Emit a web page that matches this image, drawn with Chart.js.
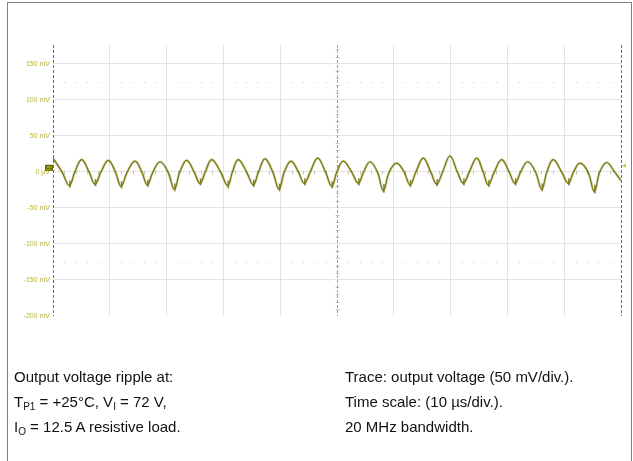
<!DOCTYPE html>
<html>
<head>
<meta charset="utf-8">
<script src="https://cdn.jsdelivr.net/npm/chart.js@4/dist/chart.umd.min.js"></script>
<style>
  html, body { margin: 0; padding: 0; background: #fff; }
  #wrap { position: relative; width: 633px; height: 461px; overflow: hidden; }
  #frame { position: absolute; left: 7px; top: 2px; width: 623px; height: 480px; border: 1px solid #7f7f7f; }
  #scope { position: absolute; left: 0; top: 0; }
  .note { position: absolute; font-family: "Liberation Sans", Arial, sans-serif; font-size: 15px; color: #111; line-height: 25px; white-space: nowrap; }
  .note sub { font-size: 10px; vertical-align: -3px; line-height: 0; }
</style>
</head>
<body>
<div id="wrap">
  <div id="frame"></div>
  <canvas id="scope" width="633" height="461"></canvas>
  <div class="note" style="left:14px; top:364px;">
    Output voltage ripple at:<br>
    T<sub>P1</sub> = +25°C, V<sub>I</sub> = 72 V,<br>
    I<sub>O</sub> = 12.5 A resistive load.
  </div>
  <div class="note" style="left:345px; top:364px;">
    Trace: output voltage (50 mV/div.).<br>
    Time scale: (10 µs/div.).<br>
    20 MHz bandwidth.
  </div>
</div>
<script>
// Output ripple trace, 10 µs/div horizontally, 50 mV/div vertically.
// Each cycle: falling zero crossing, minimum, rising zero crossing, maximum.
const timeUs = [
  0.00,
  1.58, 2.87, 3.85, 5.05,
  6.34, 7.39, 8.45, 9.74,
  10.97, 11.97, 13.08, 14.44,
  15.63, 16.60, 17.61, 18.84,
  20.23, 21.36, 22.34, 23.54,
  24.83, 25.88, 26.81, 27.94,
  29.49, 30.76, 31.60, 32.62,
  34.07, 35.26, 36.19, 37.32,
  38.68, 39.79, 40.74, 41.90,
  43.19, 44.24, 45.30, 46.60,
  47.96, 49.07, 49.99, 51.11,
  52.56, 53.75, 54.68, 55.81,
  57.10, 58.15, 59.21, 60.51,
  61.80, 62.85, 63.90, 65.19,
  66.49, 67.55, 68.60, 69.89,
  71.18, 72.24, 73.30, 74.60,
  75.72, 76.64, 77.70, 79.00,
  80.29, 81.34, 82.34, 83.57,
  84.93, 86.04, 86.96, 88.08,
  89.53, 90.72, 91.65, 92.78,
  94.17, 95.30, 96.28, 97.48,
  98.86, 100.00
];
const rippleMv = [
  19,
  0, -19, 0, 17,
  0, -17, 0, 16,
  0, -20, 0, 15,
  0, -18, 0, 14,
  0, -24, 0, 16,
  0, -16, 0, 17,
  0, -19, 0, 17,
  0, -18, 0, 18,
  0, -24, 0, 15,
  0, -16, 0, 19,
  0, -20, 0, 15,
  0, -16, 0, 14,
  0, -26, 0, 12,
  0, -18, 0, 19,
  0, -17, 0, 22,
  0, -16, 0, 19,
  0, -18, 0, 17,
  0, -16, 0, 14,
  0, -24, 0, 17,
  0, -16, 0, 12,
  0, -27, 0, 13,
  0, -12
];
// switching noise bursts riding on the ripple minima
const noiseTimeUs = [2.97, 7.49, 12.07, 16.70, 21.46, 25.98, 30.86, 35.36, 39.89, 44.34, 49.17,
                     53.85, 58.25, 62.95, 67.65, 72.34, 76.74, 81.44, 86.14, 90.82, 95.40];
const noiseLowMv  = [-22, -20, -23, -21, -27, -19, -23, -21, -27, -19, -23,
                     -19, -29, -21, -20, -19, -21, -19, -27, -19, -30];
const noiseHighMv = [-12, -10, -13, -11, -16, -9, -12, -11, -16, -9, -13,
                     -9, -17, -11, -10, -9, -11, -9, -16, -9, -18];

const xDivisions = [0, 10, 20, 30, 40, 50, 60, 70, 80, 90, 100];
const yTickValues = [150, 100, 50, 0, -50, -100, -150, -200];
const yTickLabels = ['150 mV', '100 mV', '50 mV', '0 µV', '-50 mV', '-100 mV', '-150 mV', '-200 mV'];

const tracePoints = timeUs.map((t, i) => ({ x: t, y: rippleMv[i] }));
const noisePoints = [];
noiseTimeUs.forEach((t, i) => {
  noisePoints.push({ x: t, y: noiseLowMv[i] }, { x: t, y: noiseHighMv[i] }, { x: t, y: null });
});

// Scope graticule details: dashed frame/centre lines, dotted rows, centre tick marks, channel markers
const graticule = {
  id: 'graticule',
  beforeDatasetsDraw(chart) {
    const { ctx, chartArea: a, scales: { x, y } } = chart;
    ctx.save();
    ctx.fillStyle = '#c9c9c9';
    [125, -125].forEach(v => {
      const py = Math.round(y.getPixelForValue(v));
      for (let t = 2; t < 100; t += 2) {
        if (t % 10 === 0) continue;
        ctx.fillRect(Math.round(x.getPixelForValue(t)), py, 1, 1);
      }
    });
    ctx.strokeStyle = '#c4c4c4';
    ctx.lineWidth = 1;
    const y0 = Math.round(y.getPixelForValue(0)) + 0.5;
    for (let t = 2; t < 100; t += 2) {
      if (t % 10 === 0) continue;
      const px = Math.round(x.getPixelForValue(t)) + 0.5;
      ctx.beginPath(); ctx.moveTo(px, y0 - 2); ctx.lineTo(px, y0 + 2); ctx.stroke();
    }
    const xc = Math.round(x.getPixelForValue(50)) + 0.5;
    for (let v = -190; v < 176; v += 10) {
      if (v % 50 === 0) continue;
      const py = Math.round(y.getPixelForValue(v)) + 0.5;
      ctx.beginPath(); ctx.moveTo(xc - 2, py); ctx.lineTo(xc + 2, py); ctx.stroke();
    }
    ctx.setLineDash([3, 2]);
    [[0, '#6a6a6a'], [50, '#a0a0a0'], [100, '#6a6a6a']].forEach(([t, c]) => {
      const px = Math.round(x.getPixelForValue(t)) + 0.5;
      ctx.strokeStyle = c;
      ctx.beginPath(); ctx.moveTo(px, a.top); ctx.lineTo(px, a.bottom); ctx.stroke();
    });
    ctx.restore();
  },
  afterDatasetsDraw(chart) {
    const { ctx, scales: { x, y } } = chart;
    const y0 = y.getPixelForValue(0);
    const xl = x.getPixelForValue(0);
    const xr = x.getPixelForValue(100);
    ctx.save();
    ctx.fillStyle = '#a3a30e';
    ctx.strokeStyle = '#6f6f00';
    ctx.lineWidth = 1;
    ctx.fillRect(xl - 8, y0 - 7, 8, 6);
    ctx.strokeRect(xl - 8 + 0.5, y0 - 7 + 0.5, 7, 5);
    ctx.fillStyle = '#3a3a00';
    ctx.font = '5px "Liberation Sans", Arial, sans-serif';
    ctx.textAlign = 'center';
    ctx.textBaseline = 'middle';
    ctx.fillText('C1', xl - 4, y0 - 4);
    ctx.fillStyle = '#c4c42a';
    ctx.beginPath();
    ctx.moveTo(xr + 1, y0 - 6);
    ctx.lineTo(xr + 5, y0 - 8);
    ctx.lineTo(xr + 5, y0 - 4);
    ctx.closePath();
    ctx.fill();
    ctx.restore();
  }
};

new Chart(document.getElementById('scope'), {
  type: 'line',
  data: {
    datasets: [
      {
        data: tracePoints,
        borderColor: 'rgba(110,110,0,0.3)',
        borderWidth: 2.6,
        pointRadius: 0,
        tension: 0.4,
        fill: false
      },
      {
        data: tracePoints,
        borderColor: '#7a7a08',
        borderWidth: 1.2,
        pointRadius: 0,
        tension: 0.4,
        fill: false
      },
      {
        data: noisePoints,
        borderColor: 'rgba(100,100,0,0.75)',
        borderWidth: 1.6,
        pointRadius: 0,
        tension: 0,
        spanGaps: false,
        fill: false
      }
    ]
  },
  options: {
    responsive: false,
    animation: false,
    events: [],
    layout: { padding: { left: 0, right: 12, top: 45, bottom: 145 } },
    plugins: { legend: { display: false }, tooltip: { enabled: false } },
    scales: {
      x: {
        type: 'linear',
        min: 0,
        max: 100,
        afterBuildTicks: s => { s.ticks = xDivisions.map(v => ({ value: v })); },
        afterFit: s => { s.height = 0; },
        ticks: { display: false },
        grid: {
          drawTicks: false,
          lineWidth: 1,
          color: c => (c.tick && (c.tick.value === 0 || c.tick.value === 50 || c.tick.value === 100)) ? 'rgba(0,0,0,0)' : '#e3e3e3'
        },
        border: { display: false }
      },
      y: {
        type: 'linear',
        min: -200,
        max: 176,
        afterBuildTicks: s => { s.ticks = yTickValues.map(v => ({ value: v })); },
        afterFit: s => { s.width = 53; },
        ticks: {
          callback: v => yTickLabels[yTickValues.indexOf(v)],
          color: '#b4b43c',
          font: { family: '"Liberation Sans", Arial, sans-serif', size: 7 },
          padding: 3
        },
        grid: {
          drawTicks: false,
          lineWidth: 1,
          color: c => (c.tick && c.tick.value === -200) ? 'rgba(0,0,0,0)' : '#e3e3e3'
        },
        border: { display: false }
      }
    }
  },
  plugins: [graticule]
});
</script>
</body>
</html>
